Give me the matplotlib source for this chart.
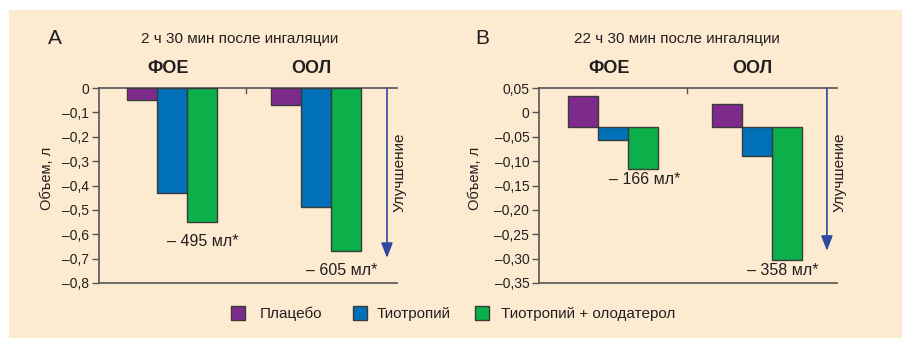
import matplotlib
matplotlib.use('Agg')
import matplotlib.pyplot as plt
from matplotlib.patches import Rectangle
import matplotlib.transforms as mtransforms

plt.rcParams['font.family'] = ['Liberation Sans', 'DejaVu Sans']

# data
groups = ['ФОЕ', 'ООЛ']
series = ['Плацебо', 'Тиотропий', 'Тиотропий + олодатерол']
colors = ['#7d2b8b', '#0071b9', '#0cb04a']

a_placebo = [-0.048, -0.070]
a_tio = [-0.431, -0.487]
a_combo = [-0.551, -0.670]
a_labels = ['– 495 мл*', '– 605 мл*']
a_ticks = [0, -0.1, -0.2, -0.3, -0.4, -0.5, -0.6, -0.7, -0.8]
a_ticklabels = ['0', '–0,1', '–0,2', '–0,3', '–0,4', '–0,5', '–0,6', '–0,7', '–0,8']

b_base = -0.029
b_placebo = [0.034, 0.017]
b_tio = [-0.056, -0.089]
b_combo = [-0.116, -0.302]
b_labels = ['– 166 мл*', '– 358 мл*']
b_ticks = [0.05, 0, -0.05, -0.10, -0.15, -0.20, -0.25, -0.30, -0.35]
b_ticklabels = ['0,05', '0', '–0,05', '–0,10', '–0,15', '–0,20', '–0,25', '–0,30', '–0,35']

bg = '#fdebd1'
txt = '#231f20'
W, H = 903, 338

fig = plt.figure(figsize=(W / 100, H / 100), dpi=100)
fig.patches.append(Rectangle((9 / W, 0), 1, (H - 10) / H, transform=fig.transFigure,
                             facecolor=bg, edgecolor='none', zorder=-10))


def px(x0, y0, x1, y1):
    return [x0 / W, (H - y1) / H, (x1 - x0) / W, (y1 - y0) / H]


def panel(rect, letter, title, letter_x, title_x, vals, base, ylim, ticks, ticklabels,
          xlim, ann, ann_pos, arrow_x, arrow_tip, sep_x, ylab_x, impr_x):
    ax = fig.add_axes(rect)
    ax.set_facecolor('none')
    w = 0.208
    for k, v in enumerate(vals):
        for g in range(2):
            ax.bar(g + (k - 1) * w, v[g] - base, bottom=base, width=w, color=colors[k],
                   edgecolor='#3a3a3a', linewidth=1.0, zorder=3)
    ax.set_xlim(*xlim)
    ax.set_ylim(*ylim)
    ax.set_yticks(ticks)
    ax.set_yticklabels(ticklabels, fontsize=10, color=txt)
    ax.set_xticks([])
    ax.spines['right'].set_visible(False)
    for s in ['left', 'top', 'bottom']:
        ax.spines[s].set_color('#555555')
        ax.spines[s].set_linewidth(1.2)
    ax.tick_params(axis='y', length=5, width=1, color='#555555', pad=2)
    tr = mtransforms.blended_transform_factory(ax.transData, ax.transAxes)
    ax.plot([sep_x, sep_x], [1, 0.975], color='#555555', lw=1, transform=tr, clip_on=False)
    for g in range(2):
        ax.text(g - 0.03, 1.10, groups[g], transform=tr, ha='center', va='center',
                fontsize=13, fontweight='bold', color=txt)
        ax.text(ann_pos[g][0], ann_pos[g][1], ann[g], ha='center', va='center',
                fontsize=11.5, color=txt)
    ax.annotate('', xy=(arrow_x, arrow_tip), xytext=(arrow_x, ylim[1]),
                arrowprops=dict(arrowstyle='-|>,head_width=0.35,head_length=0.9',
                                color='#2e4a9e', lw=1.2, shrinkA=0, shrinkB=0))
    fig.text(ylab_x / W, 1 - 178 / H, 'Объем, л', rotation=90, ha='center', va='center',
             fontsize=10.5, color=txt)
    fig.text(impr_x / W, 1 - 172 / H, 'Улучшение', rotation=90, ha='center', va='center',
             fontsize=11, color=txt)
    fig.text(letter_x / W, 1 - 39 / H, letter, ha='center', va='center', fontsize=15, color=txt)
    fig.text(title_x / W, 1 - 39 / H, title, ha='center', va='center', fontsize=11, color=txt)
    return ax


panel(px(99, 88, 397, 283), 'A', '2 ч 30 мин после ингаляции', 55, 240,
      [a_placebo, a_tio, a_combo], 0, (-0.8, 0), a_ticks, a_ticklabels,
      (-0.507, 1.5625), a_labels, [(0.215, -0.629), (1.18, -0.75)],
      1.493, -0.697, 0.514, 47, 400)

panel(px(539, 88, 837, 283), 'B', '22 ч 30 мин после ингаляции', 482, 677,
      [b_placebo, b_tio, b_combo], b_base, (-0.35, 0.05), b_ticks, b_ticklabels,
      (-0.514, 1.556), b_labels, [(0.222, -0.138), (1.18, -0.325)],
      1.486, -0.284, 0.514, 475, 840)

# legend
leg_sq = [238, 360, 482]
leg_tx = [260, 377, 501]
for k in range(3):
    fig.patches.append(Rectangle(((leg_sq[k] - 7) / W, 1 - 320 / H), 14 / W, 14 / H,
                                 transform=fig.transFigure, facecolor=colors[k],
                                 edgecolor='#3a3a3a', linewidth=1.0))
    fig.text(leg_tx[k] / W, 1 - 314 / H, series[k], ha='left', va='center',
             fontsize=11, color=txt)

fig.savefig('out.png', dpi=100)
